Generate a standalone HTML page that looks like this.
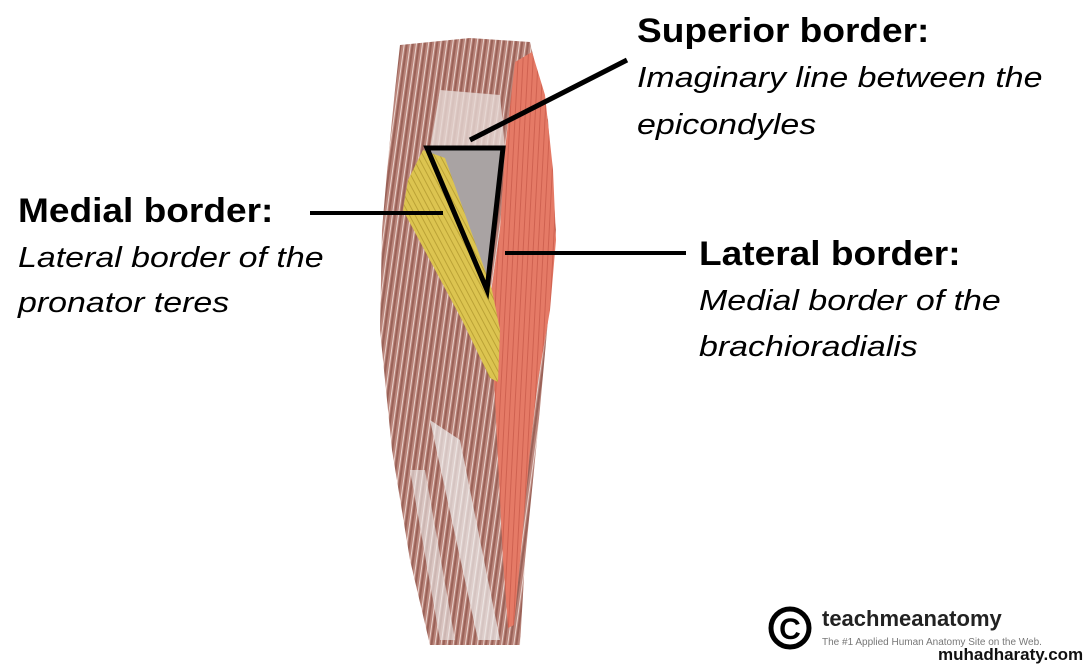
<!DOCTYPE html>
<html><head><meta charset="utf-8"><style>
html,body{margin:0;padding:0;background:#fff;}
body{width:1086px;height:668px;position:relative;overflow:hidden;font-family:"Liberation Sans",sans-serif;}
.t{position:absolute;color:#000;white-space:nowrap;transform-origin:0 0;}
.h{font-weight:bold;font-size:34px;transform:scaleX(1.09);}
.i{font-style:italic;font-size:29px;transform:scaleX(1.17);}
</style></head><body>
<svg width="1086" height="668" style="position:absolute;left:0;top:0">
<defs>
<pattern id="str" width="6" height="40" patternUnits="userSpaceOnUse" patternTransform="rotate(8)">
<rect width="6" height="40" fill="#b9847a"/>
<rect x="0" width="2" height="40" fill="#9a6258"/>
<rect x="4" width="1" height="40" fill="#e9d3cd"/>
</pattern>
<pattern id="red" width="5" height="40" patternUnits="userSpaceOnUse" patternTransform="rotate(3)">
<rect width="5" height="40" fill="#e57a66"/>
<rect width="1" height="40" fill="#cf6150"/>
</pattern>
<pattern id="yel" width="5" height="40" patternUnits="userSpaceOnUse" patternTransform="rotate(-28)">
<rect width="5" height="40" fill="#dcc450"/>
<rect width="1" height="40" fill="#bba236"/>
</pattern>
</defs>
<path d="M400,45 L470,38 L530,42 L548,120 L556,230 L548,320 L538,430 L525,560 L520,645 L430,645 L410,560 L392,450 L380,330 L382,230 L388,160 L395,90 Z" fill="url(#str)"/>
<path d="M430,420 L460,440 L500,640 L478,640 Z" fill="#eee" opacity="0.7"/>
<path d="M410,470 L425,470 L455,640 L440,640 Z" fill="#eee" opacity="0.6"/>
<path d="M440,90 L500,95 L505,148 L430,148 Z" fill="#e6d9d6" opacity="0.8"/>
<path d="M430,148 L503,148 L487,290 Z" fill="#a9a3a3"/>
<path d="M515,62 L532,52 L545,95 L553,170 L556,240 L550,310 L538,380 L530,450 L522,540 L514,625 L508,628 L503,560 L498,460 L494,380 L490,300 L500,230 L505,150 Z" fill="url(#red)"/>
<path d="M423,150 L445,158 L492,290 L500,330 L498,382 L490,378 L462,320 L403,210 L408,180 Z" fill="url(#yel)"/>
<path d="M427,148 L503,148 L487,290 Z" fill="none" stroke="#000" stroke-width="5" stroke-linejoin="miter"/>
<line x1="470" y1="140" x2="627" y2="60" stroke="#000" stroke-width="5"/>
<line x1="310" y1="213" x2="443" y2="213" stroke="#000" stroke-width="4"/>
<line x1="505" y1="253" x2="686" y2="253" stroke="#000" stroke-width="4"/>
<circle cx="790" cy="628" r="19" fill="none" stroke="#000" stroke-width="5"/>
<text x="790" y="639" text-anchor="middle" font-family="Liberation Sans" font-weight="bold" font-size="30">C</text>
</svg>
<div class="t h" style="left:637px;top:12px;">Superior border:</div>
<div class="t i" style="left:637px;top:62px;">Imaginary line between the</div>
<div class="t i" style="left:637px;top:109px;">epicondyles</div>
<div class="t h" style="left:18px;top:192px;">Medial border:</div>
<div class="t i" style="left:18px;top:242px;">Lateral border of the</div>
<div class="t i" style="left:18px;top:287px;">pronator teres</div>
<div class="t h" style="left:699px;top:235px;">Lateral border:</div>
<div class="t i" style="left:699px;top:285px;">Medial border of the</div>
<div class="t i" style="left:699px;top:331px;">brachioradialis</div>
<div class="t" style="left:822px;top:606px;font-size:22px;font-weight:bold;color:#222;">teachmeanatomy</div>
<div class="t" style="left:822px;top:637px;font-size:10px;color:#777;">The #1 Applied Human Anatomy Site on the Web.</div>
<div class="t" style="left:938px;top:645px;font-size:17px;font-weight:bold;color:#111;">muhadharaty.com</div>
</body></html>
